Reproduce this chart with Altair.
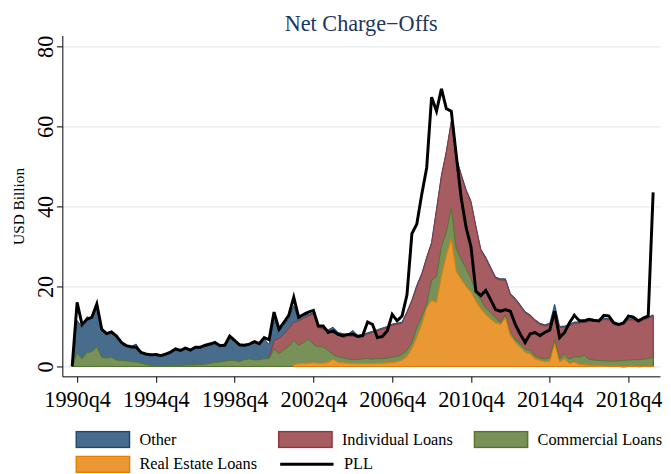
import json
import altair as alt
import pandas as pd

# Quarterly data, 1990q3 .. 2020q1 (USD billion)
start_q = 122  # 1990q3 as quarters since 1960q1

pll = [0, 16, 10.5, 11.8, 12.3, 15.6, 9.3, 8.2, 8.6, 7.6,
       6.0, 5.2, 4.9, 4.8, 3.5, 3.1, 2.9, 3.0, 2.7, 3.1,
       3.6, 4.4, 4.0, 4.6, 4.1, 4.8, 4.8, 5.3, 5.6, 6.0,
       5.2, 5.3, 7.6, 6.5, 5.4, 5.3, 5.6, 6.2, 5.7, 7.2,
       6.7, 13.6, 9.3, 11.0, 12.8, 17.3, 12.3, 13.0, 13.6, 14.0,
       10.1, 10.1, 8.5, 8.9, 8.0, 7.7, 8.0, 8.1, 7.5, 7.7,
       11.1, 10.5, 7.2, 7.5, 8.9, 13.0, 11.4, 12.6, 17.9, 33.2,
       35.6, 43.0, 49.6, 67.3, 63.8, 69.4, 64.4, 63.8, 52.9, 42.2,
       34.8, 29.9, 18.8, 17.7, 19.0, 16.7, 14.2, 13.8, 14.2, 13.8,
       10.5, 8.1, 6.0, 8.1, 8.5, 7.7, 8.5, 9.1, 13.8, 7.2,
       8.5, 10.9, 12.8, 11.4, 11.4, 11.8, 11.5, 11.4, 12.8, 12.6,
       10.9, 10.5, 10.9, 12.6, 12.3, 11.4, 12.1, 12.6, 43.5]

# cumulative level reached by each shaded band
other_top = [0, 11.5, 9.8, 12.4, 12.0, 14.7, 9.4, 8.4, 8.9, 7.4,
             6.0, 5.2, 5.0, 5.6, 3.5, 3.1, 2.8, 3.2, 2.5, 2.9,
             3.4, 4.2, 3.8, 4.4, 4.0, 4.6, 4.6, 5.1, 5.4, 5.8,
             5.0, 5.1, 7.2, 6.3, 5.2, 5.1, 5.4, 6.0, 5.5, 6.8,
             5.5, 12.0, 8.8, 10.2, 12.0, 15.2, 11.8, 12.8, 13.0, 13.4,
             10.0, 9.6, 9.2, 9.8, 8.5, 8.2, 8.0, 9.0, 7.8, 8.0,
             8.4, 8.8, 9.2, 9.6, 10.0, 10.6, 10.8, 11.1, 13.7, 16.6,
             20.3, 23.2, 27.3, 31.0, 39.3, 47.8, 53.8, 61.3, 52.3, 48.1,
             44.2, 41.3, 35.1, 29.3, 27.3, 24.8, 22.3, 21.9, 21.9, 18.2,
             17.0, 15.4, 13.7, 12.9, 11.7, 10.8, 10.4, 10.8, 15.5, 10.0,
             10.1, 10.5, 11.1, 11.1, 11.3, 11.5, 11.6, 11.5, 12.1, 11.9,
             10.7, 10.5, 10.8, 11.9, 11.9, 11.3, 11.9, 12.3, 12.9]

individual_top = [None] * 40 + [
             2.0, 6.5, 7.0, 8.1, 9.5, 11.0, 11.4, 12.0, 12.6, 13.2,
             9.7, 9.3, 8.6, 8.3, 8.0, 7.2, 7.6, 7.5, 7.3, 7.5,
             8.1, 8.5, 8.9, 9.3, 9.7, 10.3, 10.5, 10.8, 13.4, 16.3,
             20.0, 22.9, 27.0, 30.7, 39.0, 47.5, 53.5, 61.0, 52.0, 47.8,
             43.9, 41.0, 34.8, 29.0, 27.0, 24.5, 22.0, 21.6, 21.6, 17.9,
             16.7, 15.1, 13.4, 12.6, 11.4, 10.5, 10.1, 10.5, 13.5, 9.7,
             9.8, 10.2, 10.8, 10.8, 11.0, 11.2, 11.3, 11.2, 11.8, 11.6,
             10.4, 10.2, 10.5, 11.6, 11.6, 11.0, 11.6, 12.0, 12.6]

commercial_top = [0, 3.3, 1.9, 3.5, 3.7, 4.9, 2.3, 2.1, 2.3, 1.6,
             1.5, 1.4, 1.2, 1.1, 0.8, 0.5, 0.3, 0.2, 0.2, 0.25,
             0.3, 0.3, 0.3, 0.35, 0.4, 0.4, 0.5, 0.6, 0.8, 1.0,
             1.1, 1.3, 1.5, 1.5, 1.2, 1.7, 1.9, 1.6, 1.7, 1.9,
             2.0, 4.4, 3.2, 4.2, 5.0, 6.5, 5.3, 6.0, 6.9, 5.5,
             4.9, 4.9, 4.0, 3.0, 2.4, 2.2, 1.9, 1.7, 1.7, 1.9,
             2.0, 1.8, 2.0, 1.9, 2.1, 2.3, 2.5, 3.0, 4.0, 6.0,
             9.7, 12.5, 15.5, 21.5, 22.5, 30.0, 33.6, 39.6, 29.5, 26.8,
             24.5, 22.0, 18.4, 16.7, 14.6, 13.4, 12.2, 10.9, 13.0, 8.5,
             6.8, 5.6, 4.4, 4.0, 2.7, 2.1, 1.9, 2.1, 6.8, 1.9,
             3.1, 1.8, 2.5, 2.3, 2.8, 1.8, 1.6, 1.5, 1.4, 1.4,
             1.3, 1.4, 1.5, 1.6, 1.7, 1.7, 1.8, 2.0, 2.3]

real_estate_top = [None] * 45 + [
             0.5, 0.7, 0.8, 0.8, 0.9,
             0.8, 0.8, 1.0, 1.8, 1.0, 0.9, 0.8, 0.8, 0.7, 0.7,
             0.7, 0.7, 0.8, 0.8, 0.9, 1.0, 1.2, 1.6, 2.5, 4.5,
             7.3, 10.5, 14.7, 16.5, 16.0, 22.5, 27.8, 32.0, 23.8, 21.8,
             20.0, 18.6, 16.3, 14.4, 13.0, 11.8, 10.9, 10.5, 12.2, 7.7,
             6.0, 4.8, 3.5, 3.1, 1.9, 1.5, 1.2, 1.3, 5.6, 1.1,
             1.9, 0.7, 1.1, 0.5, 0.4, 0.3, 0.3, 0.3, 0.2, 0.1,
             0.1, 0.0, -0.2, 0.0, 0.1, -0.1, 0.0, 0.1, 0.1]

tick_values = [123, 139, 155, 171, 187, 203, 219, 235]
tick_labels = ["1990q4", "1994q4", "1998q4", "2002q4", "2006q4",
               "2010q4", "2014q4", "2018q4"]
y_ticks = [0, 20, 40, 60, 80]

area_series = ["Other", "Individual Loans", "Commercial Loans", "Real Estate Loans"]
fills = ["#486c8c", "#a65d62", "#779159", "#e99833"]
strokes = ["#1a476f", "#90353b", "#55752f", "#e37e00"]
line_series = ["PLL"]

columns = {
    "Other": other_top,
    "Individual Loans": individual_top,
    "Commercial Loans": commercial_top,
    "Real Estate Loans": real_estate_top,
    "PLL": pll,
}
rows = []
for name, vals in columns.items():
    for k, v in enumerate(vals):
        rows.append({"t": start_q + k, "s": name, "v": v})
df = pd.DataFrame(rows)

SERIF = "Liberation Serif"
rect_path = "M-1,-0.3L1,-0.3L1,0.3L-1,0.3Z"

area_legend = alt.Legend(
    title=None, orient="none", legendX=13, legendY=400, columns=3,
    direction="horizontal", symbolType=rect_path,
    symbolSize=2916, clipHeight=18, rowPadding=7, columnPadding=20,
    symbolStrokeWidth=1.5, symbolOpacity=1,
    labelFont=SERIF, labelFontSize=16.5, labelColor="black", labelOffset=9,
    padding=0, labelLimit=300,
)
line_legend = alt.Legend(
    title=None, orient="none", legendX=219, legendY=425,
    direction="horizontal", symbolType="stroke",
    symbolSize=2916, clipHeight=18, symbolStrokeWidth=3,
    symbolStrokeColor="black", symbolOpacity=1,
    labelFont=SERIF, labelFontSize=16.5, labelColor="black", labelOffset=9,
    padding=0, labelLimit=300,
)

fill = alt.Fill("s:N", scale=alt.Scale(domain=area_series, range=fills), legend=area_legend)
stroke = alt.Stroke("s:N", scale=alt.Scale(domain=area_series, range=strokes), legend=area_legend)
dash = alt.StrokeDash("s:N", scale=alt.Scale(domain=line_series, range=[[1, 0]]), legend=line_legend)

x = alt.X("t:Q", scale=alt.Scale(domain=[120, 241.4], nice=False, zero=False),
          axis=alt.Axis(values=tick_values, title=None, grid=False,
                        labelExpr=f"{json.dumps(tick_labels)}[indexof({json.dumps(tick_values)}, datum.value)]",
                        labelFont=SERIF, labelFontSize=22.5, labelColor="black",
                        labelPadding=7, tickSize=6, tickColor="black",
                        domainColor="black", labelFlush=False, labelOverlap=False))
y = alt.Y("v:Q", stack=None,
          scale=alt.Scale(domain=[-2.47, 82.7], nice=False, zero=False),
          axis=alt.Axis(values=y_ticks, title="USD Billion", grid=True,
                        gridColor="#e6eef1", gridWidth=1.2,
                        labelFont=SERIF, labelFontSize=22.5, labelColor="black",
                        labelAngle=270, labelAlign="center", labelBaseline="alphabetic",
                        labelPadding=4, tickSize=6, tickColor="black", domainColor="black",
                        titleFont=SERIF, titleFontSize=15.5, titleFontWeight="normal",
                        titleColor="black", titleAngle=270, titleX=-39, titleY=172.5,
                        titleAlign="center", titleBaseline="alphabetic"))

base = alt.Chart(df)
layers = []
for name in area_series:
    layers.append(
        base.transform_filter(alt.datum.s == name)
        .mark_area(strokeWidth=1, opacity=1)
        .encode(x=x, y=y, y2=alt.datum(0), fill=fill, stroke=stroke)
    )
layers.append(
    base.transform_filter(alt.datum.s == "PLL")
    .mark_line(strokeWidth=3, color="black")
    .encode(x=x, y=y, strokeDash=dash)
)

chart = alt.layer(*layers).properties(
    width=605, height=345,
    title=alt.Title("Net Charge−Offs", font=SERIF, fontSize=22.5, fontWeight="normal",
                    color="#1e3560", anchor="middle", offset=0),
    autosize=alt.AutoSizeParams(type="none"),
    padding={"left": 55, "top": 25, "right": 3, "bottom": 96},
).configure_view(stroke=None)

chart.save("out.html", embed_options={"renderer": "svg", "actions": False})
